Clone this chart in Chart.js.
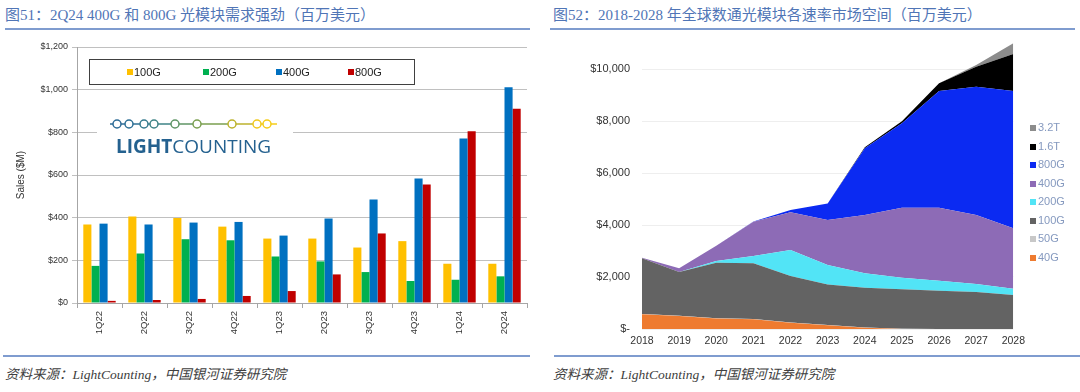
<!DOCTYPE html>
<html lang="zh">
<head>
<meta charset="UTF-8">
<title>光模块</title>
<script src="https://cdn.jsdelivr.net/npm/chart.js@4.4.1/dist/chart.umd.min.js"></script>
<style>
    body { margin: 0; background: #fff; width: 1080px; height: 392px; position: relative; overflow: hidden; }
    .title { position: absolute; top: 3px; font: 15px "Liberation Serif", "Noto Sans CJK SC", serif; color: #5075b6; white-space: nowrap; }
    .rule { position: absolute; height: 2px; background: #7f9ccf; }
    .source { position: absolute; top: 363px; font: italic 13.5px "Liberation Serif", "Noto Sans CJK SC", serif; color: #404040; white-space: nowrap; }
    canvas { position: absolute; }
    #legendLeft { position: absolute; left: 89px; top: 59px; width: 324px; height: 24px; border: 1px solid #404040; font: 11px "Liberation Sans", Arial, sans-serif; color: #222; }
    #legendLeft span { position: absolute; top: 6px; }
    #legendLeft i, #legendRight i { position: absolute; width: 6px; height: 6px; }
    #legendRight { position: absolute; left: 1030px; top: 121px; font: 11px "Liberation Sans", Arial, sans-serif; color: #8599bf; }
    #legendRight div { position: absolute; left: 0; white-space: nowrap; }
</style>
</head>
<body>
    <div class="title" style="left:5px">图51：2Q24 400G 和 800G 光模块需求强劲（百万美元）</div>
    <div class="title" style="left:553px">图52：2018-2028 年全球数通光模块各速率市场空间（百万美元）</div>
    <div class="rule" style="left:5px; width:525px; top:28px"></div>
    <div class="rule" style="left:550px; width:525px; top:28px"></div>

    <canvas id="salesChart" width="535" height="310" style="left:0; top:36px"></canvas>
    <div id="legendLeft"></div>

    <canvas id="marketChart" width="486" height="314" style="left:545px; top:36px"></canvas>
    <div id="legendRight"></div>

    <div class="rule" style="left:3px; width:527px; top:355px"></div>
    <div class="rule" style="left:554px; width:526px; top:355px"></div>
    <div class="source" style="left:5px">资料来源：LightCounting，中国银河证券研究院</div>
    <div class="source" style="left:553px">资料来源：LightCounting，中国银河证券研究院</div>

<script>
    // 图51 数据
    const quarters = ['1Q22', '2Q22', '3Q22', '4Q22', '1Q23', '2Q23', '3Q23', '4Q23', '1Q24', '2Q24'];
    const sales100G = [368, 406, 399, 358, 302, 302, 260, 290, 184, 184];
    const sales200G = [174, 232, 299, 294, 218, 195, 145, 103, 109, 125];
    const sales400G = [372, 368, 377, 380, 316, 396, 485, 584, 771, 1011];
    const sales800G = [10, 14, 19, 33, 56, 134, 326, 555, 805, 910];
    const salesNames = ['100G', '200G', '400G', '800G'];
    const salesColors = ['#ffc000', '#00b050', '#0070c0', '#c00000'];

    // 图52 数据
    const years = ['2018', '2019', '2020', '2021', '2022', '2023', '2024', '2025', '2026', '2027', '2028'];
    const market40G  = [565, 500, 400, 373, 243, 142, 50, 0, 0, 0, 0];
    const market50G  = [10, 10, 10, 10, 10, 10, 5, 5, 0, 0, 0];
    const market100G = [2144, 1682, 2140, 2143, 1785, 1560, 1535, 1520, 1475, 1423, 1308];
    const market200G = [0, 0, 65, 282, 1000, 750, 551, 450, 383, 308, 242];
    const market400G = [21, 143, 585, 1320, 1449, 1730, 2244, 2692, 2809, 2654, 2322];
    const market800G = [0, 0, 0, 7, 90, 638, 2565, 3245, 4487, 4935, 5282];
    const market1_6T = [0, 0, 0, 0, 0, 0, 40, 78, 296, 768, 1423];
    const market3_2T = [0, 0, 0, 0, 0, 0, 0, 0, 0, 66, 411];
    const marketNames = ['40G', '50G', '100G', '200G', '400G', '800G', '1.6T', '3.2T'];
    const marketColors = ['#ee7b30', '#c8c8c8', '#636363', '#52e4f6', '#8d6bb6', '#0b2af2', '#000000', '#8c8c8c'];

    const salesSeries = [sales100G, sales200G, sales400G, sales800G];
    const marketSeries = [market40G, market50G, market100G, market200G, market400G, market800G, market1_6T, market3_2T];

    // logo behind the bars
    const logoPlugin = {
        id: 'logo',
        beforeDatasetsDraw(chart) {
            const ctx = chart.ctx;
            ctx.save();
            ctx.fillStyle = '#fff';
            ctx.fillRect(97, 78, 196, 46);
            const dots = [117, 129, 144, 154, 175, 197, 232, 257, 267];
            const cols = ['#2d6b96', '#2d6f95', '#357a8e', '#3e8386', '#5f9565', '#7a9f4f', '#bcb22c', '#f0c81c', '#f5cc18'];
            ctx.lineWidth = 1.5;
            for (let i = 0; i < dots.length - 1; i++) {
                ctx.strokeStyle = cols[i];
                ctx.beginPath();
                ctx.moveTo(dots[i], 88);
                ctx.lineTo(dots[i + 1], 88);
                ctx.stroke();
            }
            ctx.beginPath(); ctx.strokeStyle = cols[0]; ctx.moveTo(110, 88); ctx.lineTo(117, 88); ctx.stroke();
            ctx.beginPath(); ctx.strokeStyle = cols[8]; ctx.moveTo(267, 88); ctx.lineTo(277, 88); ctx.stroke();
            dots.forEach((x, i) => {
                ctx.beginPath();
                ctx.arc(x, 88, 4, 0, Math.PI * 2);
                ctx.fillStyle = '#fff';
                ctx.fill();
                ctx.strokeStyle = cols[i];
                ctx.stroke();
            });
            ctx.fillStyle = '#24618f';
            ctx.textBaseline = 'alphabetic';
            ctx.font = 'bold 19px "Open Sans", sans-serif';
            ctx.fillText('LIGHT', 116, 117);
            let w = ctx.measureText('LIGHT').width;
            ctx.font = '19px "Open Sans", sans-serif';
            ctx.fillText('COUNTING', 116 + w, 117);
            ctx.restore();
        }
    };

    new Chart(document.getElementById('salesChart'), {
        type: 'bar',
        data: {
            labels: quarters,
            datasets: salesSeries.map((d, i) => ({
                label: salesNames[i],
                data: d,
                backgroundColor: salesColors[i],
                categoryPercentage: 0.72,
                barPercentage: 1
            }))
        },
        options: {
            responsive: false,
            animation: false,
            layout: { padding: { top: 11, left: 15, right: 8, bottom: 0 } },
            plugins: { legend: { display: false }, tooltip: { enabled: false } },
            scales: {
                x: {
                    afterFit: s => { s.height = 43; },
                    grid: { drawOnChartArea: false, tickLength: 5, color: '#a6a6a6' },
                    border: { color: '#a6a6a6' },
                    ticks: { maxRotation: 90, minRotation: 90, padding: 3, color: '#333', font: { family: 'Liberation Sans', size: 9.5 } }
                },
                y: {
                    min: 0, max: 1200,
                    afterFit: s => { s.width = 62; },
                    grid: { color: '#c0c0c0', tickLength: 5 },
                    border: { color: '#a6a6a6' },
                    ticks: { stepSize: 200, padding: 4, color: '#333', font: { family: 'Liberation Sans', size: 9 },
                        callback: v => '$' + v.toLocaleString('en-US') },
                    title: { display: true, text: 'Sales ($M)', color: '#333', font: { family: 'Liberation Sans', size: 10 }, padding: 0 }
                }
            }
        },
        plugins: [logoPlugin]
    });

    new Chart(document.getElementById('marketChart'), {
        type: 'line',
        data: {
            labels: years,
            datasets: marketSeries.map((d, i) => ({
                label: marketNames[i],
                data: d,
                backgroundColor: marketColors[i],
                borderWidth: 0,
                pointRadius: 0,
                tension: 0,
                fill: i === 0 ? 'origin' : '-1'
            }))
        },
        options: {
            responsive: false,
            animation: false,
            layout: { padding: { top: 7, left: 0, right: 0, bottom: 0 } },
            plugins: { legend: { display: false }, tooltip: { enabled: false } },
            scales: {
                x: {
                    afterFit: s => { s.height = 21; },
                    grid: { display: false, drawTicks: false },
                    border: { display: false },
                    ticks: { padding: 6, color: '#333', font: { family: 'Liberation Sans', size: 10.5 } }
                },
                y: {
                    stacked: true,
                    min: 0, max: 11000,
                    afterFit: s => { s.width = 97; },
                    afterBuildTicks: s => { s.ticks = s.ticks.filter(t => t.value % 2000 === 0); },
                    grid: { color: '#eeeeee', drawTicks: true, tickLength: 12, tickColor: 'rgba(0,0,0,0)' },
                    border: { display: false },
                    ticks: { stepSize: 1000, padding: 0, color: '#333', font: { family: 'Liberation Sans', size: 11 },
                        callback: v => v === 0 ? '$-' : '$' + v.toLocaleString('en-US') }
                }
            }
        }
    });

    // legends
    const legendLeft = document.getElementById('legendLeft');
    const leftX = [37, 113, 186, 258];
    salesNames.forEach((name, i) => {
        let sp = document.createElement('span');
        sp.style.left = leftX[i] + 'px';
        sp.innerHTML = '<i style="left:0;top:3px;background:' + salesColors[i] + '"></i><b style="font-weight:normal;margin-left:7px">' + name + '</b>';
        legendLeft.append(sp);
    });

    const legendRight = document.getElementById('legendRight');
    marketNames.slice().reverse().forEach((name, k) => {
        let i = marketNames.length - 1 - k;
        let row = document.createElement('div');
        row.style.top = (k * 18.5) + 'px';
        row.innerHTML = '<i style="left:0;top:4px;background:' + marketColors[i] + '"></i><span style="margin-left:8px">' + name + '</span>';
        legendRight.append(row);
    });
</script>
</body>
</html>
